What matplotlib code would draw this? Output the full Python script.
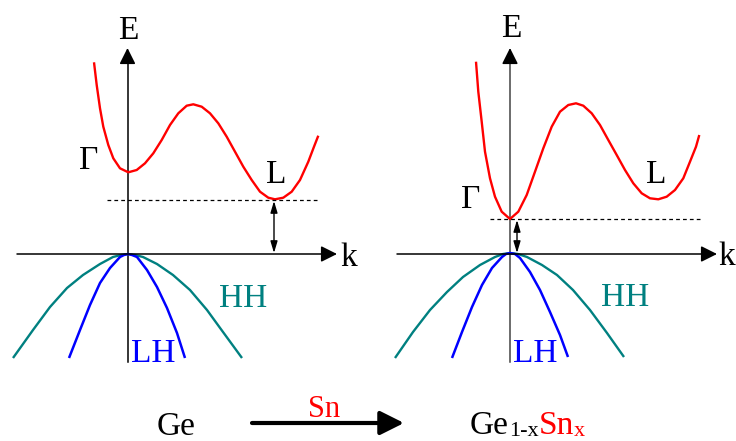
import matplotlib.pyplot as plt

plt.rcParams['font.family'] = ['Liberation Serif', 'DejaVu Serif']

# everything in picture pixels (x right, y down)
# left panel: Ge
ge_cb_x = [94, 96.7, 100, 103.3, 108.3, 113.3, 120, 128.3, 136.7, 145, 153.3, 161.7, 170, 178.3, 186.7,
           193.3, 201.7, 210, 218.3, 226.7, 235, 243.3, 251.7, 260, 268.3, 275, 283.3, 291.7, 300, 308.3,
           314, 318.3]
ge_cb_y = [62.3, 85, 108.3, 126.7, 145, 158.3, 168.3, 172.3, 170, 163.3, 153.3, 140, 125, 113.3, 105.7,
           104.3, 106.7, 113.3, 123.3, 136.7, 151.7, 166.7, 180, 191.7, 197.7, 199.3, 197.7, 191.7, 180, 161.7,
           146.7, 135.7]
ge_hh_x = [13, 33, 50, 67, 83, 100, 113, 121, 128, 135, 143, 157, 173, 190, 207, 223, 242]
ge_hh_y = [358, 330, 307, 288, 275, 264, 257, 255, 254, 255, 257, 264, 275, 290, 310, 332, 358]
ge_lh_x = [69, 80, 90, 100, 110, 120, 124, 128, 132, 137, 147, 157, 167, 177, 185]
ge_lh_y = [358, 330, 305, 283, 268, 257, 255, 254, 255, 257, 270, 287, 308, 333, 358]
ge_gap_y = 200
ge_gap_x = 274

# right panel: Ge(1-x)Sn(x)
gesn_cb_x = [476, 478.3, 481.7, 485, 490, 495, 501.7, 510, 518.3, 526.7, 535, 543.3, 551.7, 560, 568.3,
             576, 583.3, 591.7, 600, 608.3, 616.7, 625, 633.3, 641.7, 650, 658.3, 666.7, 675, 683.3, 690,
             696, 699.3]
gesn_cb_y = [61.7, 91.7, 121.7, 151.7, 178.3, 196.7, 211.7, 219, 211.7, 195, 171.7, 148.3, 126.7, 111.7, 105,
             103.3, 105.7, 113.3, 125, 140, 155, 170, 183.3, 193.3, 198.3, 199.3, 196.7, 190, 178.3, 161.7,
             146.7, 135]
gesn_hh_x = [395, 413, 430, 447, 463, 480, 495, 503, 510, 518, 527, 542, 557, 573, 590, 607, 624]
gesn_hh_y = [358, 332, 310, 292, 277, 265, 257, 254, 253, 254, 257, 265, 275, 290, 310, 333, 357]
gesn_lh_x = [452, 462, 472, 482, 492, 502, 506, 510, 515, 520, 530, 540, 550, 560, 568]
gesn_lh_y = [358, 332, 307, 285, 268, 257, 254, 253, 254, 258, 272, 290, 312, 335, 357]
gesn_gap_y = 219
gesn_gap_x = 517

red = '#ff0000'
teal = '#008080'
blue = '#0000ff'

fig = plt.figure(figsize=(7.36, 4.41), dpi=100)
ax = fig.add_axes([0, 0, 1, 1])
ax.set_xlim(0, 736)
ax.set_ylim(441, 0)
ax.axis('off')

head = dict(arrowstyle='-|>,head_length=0.7,head_width=0.35', color='black', lw=1.1, shrinkA=0, shrinkB=0, mutation_scale=14)
dbl = dict(arrowstyle='<|-|>,head_length=0.5,head_width=0.15', color='black', lw=1.0, shrinkA=0, shrinkB=0, mutation_scale=14)


def panel(x0, k_end, axis_color, cb_x, cb_y, hh_x, hh_y, lh_x, lh_y, gap_y, gap_x, dash_x0, dash_x1):
    ax.plot([x0, x0], [362, 58], color=axis_color, lw=1.1)
    ax.annotate('', xy=(x0, 48), xytext=(x0, 62), arrowprops=head)
    ax.annotate('', xy=(k_end, 254), xytext=(k_end - 320, 254), arrowprops=head)
    ax.plot(hh_x, hh_y, color=teal, lw=1.7, solid_capstyle='butt', solid_joinstyle='round')
    ax.plot(lh_x, lh_y, color=blue, lw=1.8, solid_capstyle='butt', solid_joinstyle='round')
    ax.plot(cb_x, cb_y, color=red, lw=1.7, solid_capstyle='butt', solid_joinstyle='round')
    ax.plot([dash_x0, dash_x1], [gap_y, gap_y], color='black', lw=0.9, dashes=(3, 2.5))
    ax.annotate('', xy=(gap_x, 253), xytext=(gap_x, gap_y + 1), arrowprops=dbl)


panel(127.5, 337, 'black', ge_cb_x, ge_cb_y, ge_hh_x, ge_hh_y, ge_lh_x, ge_lh_y, ge_gap_y, ge_gap_x, 107, 319)
panel(510, 717, '#444444', gesn_cb_x, gesn_cb_y, gesn_hh_x, gesn_hh_y, gesn_lh_x, gesn_lh_y, gesn_gap_y, gesn_gap_x, 490, 701)

fs = 24
lbl = dict(fontsize=fs, ha='center', va='baseline')
ax.text(128, 39, 'E', **lbl)
ax.text(89, 169, 'Γ', **lbl)
ax.text(276, 183, 'L', **lbl)
ax.text(349, 266, 'k', **lbl)
ax.text(243, 307, 'HH', color=teal, **lbl)
ax.text(153, 362, 'LH', color=blue, **lbl)

ax.text(511, 37, 'E', **lbl)
ax.text(471, 208, 'Γ', **lbl)
ax.text(656, 183, 'L', **lbl)
ax.text(727, 265, 'k', **lbl)
ax.text(625, 306, 'HH', color=teal, **lbl)
ax.text(535, 362, 'LH', color=blue, **lbl)

# bottom line: Ge --Sn--> Ge1-xSnx
ax.text(176, 435, 'Ge', fontsize=fs, ha='center', va='baseline')
ax.annotate('', xy=(404, 423), xytext=(252, 423),
            arrowprops=dict(arrowstyle='-|>,head_length=0.9,head_width=0.45', color='black', lw=3,
                            shrinkA=0, shrinkB=0, mutation_scale=16))
ax.text(324, 417, 'Sn', fontsize=22, color=red, ha='center', va='baseline')

t1 = ax.text(470, 434, 'Ge', fontsize=fs, ha='left', va='baseline')
t2 = ax.annotate('1-x', xy=(1, 436.5), xycoords=(t1, 'data'), fontsize=16, ha='left', va='baseline')
t3 = ax.annotate('Sn', xy=(1, 434), xycoords=(t2, 'data'), fontsize=fs, color=red, ha='left', va='baseline')
ax.annotate('x', xy=(1, 436.5), xycoords=(t3, 'data'), fontsize=16, color=red, ha='left', va='baseline')

fig.savefig('out.png', dpi=100)
